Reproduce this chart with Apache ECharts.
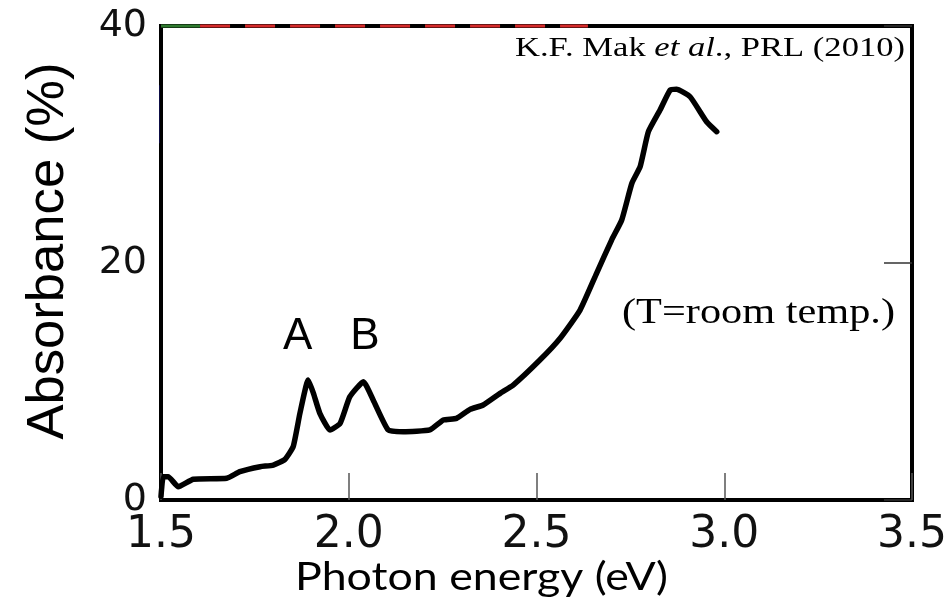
<!DOCTYPE html>
<html><head><meta charset="utf-8">
<script src="https://cdn.jsdelivr.net/npm/echarts@6/dist/echarts.min.js"></script>
<style>html,body{margin:0;padding:0;background:#fff}#c{width:946px;height:603px}</style>
</head><body><div id="c"></div>
<script>
// ---- data ----
const photonEnergy = [1.500,1.506,1.519,1.546,1.586,1.675,1.710,1.764,1.799,1.830,1.852,1.870,1.892,1.906,1.923,1.950,1.977,2.003,2.039,2.065,2.105,2.145,2.216,2.252,2.287,2.323,2.358,2.403,2.438,2.509,2.563,2.616,2.660,2.700,2.727,2.754,2.776,2.798,2.829,2.856,2.873,2.909,2.953,2.980];
const absorbance   = [0.3,1.97,1.97,1.12,1.75,1.83,2.39,2.81,2.95,3.43,4.50,7.32,10.13,9.00,7.32,5.91,6.47,8.72,9.98,8.44,5.91,5.76,5.91,6.75,6.89,7.65,8.02,9.00,9.70,11.81,13.65,16.03,19.13,21.94,23.63,26.73,28.13,31.08,32.91,34.60,34.66,34.03,31.92,31.08];
const xTickLabels = ['1.5','2.0','2.5','3.0','3.5'];
const yTickLabels = ['0','20','40'];
const peakLabels = ['A','B'];
const peakLabelX = [1.864, 2.043];
const peakLabelY = [13.8, 13.8];
const topGreenX = [1.5, 1.604];
const topRedX = [1.604, 2.637];
const topY = [40, 40];
const leftBlueX = [1.492, 1.492];
const leftBlueY = [30.1, 35.0];
const citationParts = ['K.F. Mak ', 'et al', '., PRL (2010)'];
const tempNote = '(T=room temp.)';
const xTitle = 'Photon energy (eV)';
const yTitle = 'Absorbance (%)';

// ---- helpers ----
const cv = document.createElement('canvas').getContext('2d');
function w(text, font){ cv.font = font; return cv.measureText(text).width; }

const citeW = w(citationParts[0], '28px "Liberation Serif"') + w(citationParts[1], 'italic 28px "Liberation Serif"') + w(citationParts[2], '28px "Liberation Serif"');
const citeScale = 390 / citeW;
const tempScale = 273 / w(tempNote, '35px "Liberation Serif"');
const xTitleScale = 373 / w(xTitle, '39px "Lato"');
const yTitleScale = 377 / w(yTitle, '52px "Liberation Sans"');

const chart = echarts.init(document.getElementById('c'), null, {renderer:'canvas'});
const zip = (a,b) => a.map((v,i)=>[v,b[i]]);

function txt(text, family, size, x, y, sx, extra){
  return Object.assign({
    type:'text', x:x, y:y, scaleX:sx, z:10,
    style:{text:text, fontFamily:family, fontSize:size, fill:'#000', align:'center', verticalAlign:'middle', textAlign:'center', textVerticalAlign:'middle'}
  }, extra||{});
}

chart.setOption({
  animation:false,
  backgroundColor:'#fff',
  grid:{left:161, right:34, top:26, bottom:103, show:true, borderColor:'#000', borderWidth:4, backgroundColor:'transparent', outerBoundsMode:'none'},
  xAxis:{type:'value', min:1.5, max:3.5, interval:0.5,
    axisLine:{show:false}, splitLine:{show:false},
    axisTick:{show:true, inside:true, length:27, lineStyle:{color:'#555', width:1.5}},
    axisLabel:{fontFamily:'DejaVu Sans', fontSize:44, color:'#111', margin:14, showMinLabel:true, showMaxLabel:true,
      formatter:(v)=>{ const i = Math.round((v-1.5)/0.5); return xTickLabels[i] !== undefined ? xTickLabels[i] : ''; }}
  },
  yAxis:[
    {type:'value', min:0, max:40, interval:20, position:'left',
      axisLine:{show:false}, axisTick:{show:false}, splitLine:{show:false},
      axisLabel:{fontFamily:'DejaVu Sans', fontSize:38, color:'#111', margin:14, padding:[0,0,8,0],
        showMinLabel:true, showMaxLabel:true,
        formatter:(v)=>{ const i = Math.round(v/20); return yTickLabels[i] !== undefined ? yTickLabels[i] : ''; }}
    },
    {type:'value', min:0, max:40, interval:20, position:'right',
      axisLine:{show:false}, splitLine:{show:false}, axisLabel:{show:false},
      axisTick:{show:true, inside:true, length:28, lineStyle:{color:'#333', width:1.5}}
    }
  ],
  series:[
    {type:'line', data:zip(topGreenX, topY), symbol:'none', clip:false, z:4,
      lineStyle:{color:'#2f7a2f', width:3}},
    {type:'line', data:zip(topRedX, topY), symbol:'none', clip:false, z:4,
      lineStyle:{color:'#d42a2a', width:3, type:[30,15]}},
    {type:'line', data:zip(leftBlueX, leftBlueY), symbol:'none', clip:false, z:4,
      lineStyle:{color:'#1c1c8a', width:3}},
    {type:'line', data:zip(photonEnergy, absorbance), symbol:'none', clip:false, z:5, smooth:0.15,
      lineStyle:{color:'#000', width:5.5, cap:'round', join:'round'}},
    {type:'scatter', data:peakLabelX.map((x,i)=>[x, peakLabelY[i], peakLabels[i]]), symbolSize:0.1,
      itemStyle:{color:'#000'}, silent:true, z:6,
      label:{show:true, position:'inside', formatter:(p)=>p.value[2], fontFamily:'Liberation Sans', fontSize:44,
        color:'#000', opacity:1, textBorderWidth:0}}
  ],
  graphic:[
    {type:'text', x:710, y:49, scaleX:citeScale, z:10,
      style:{text:citationParts[0] + '{i|' + citationParts[1] + '}' + citationParts[2], fontSize:28, fontFamily:'Liberation Serif', fill:'#000',
        align:'center', verticalAlign:'middle', textAlign:'center', textVerticalAlign:'middle',
        rich:{i:{fontStyle:'italic', fontSize:28, fontFamily:'Liberation Serif', fill:'#000'}}}},
    txt(tempNote, 'Liberation Serif', 35, 758.5, 314, tempScale),
    txt(xTitle, 'Lato', 39, 481.5, 577, xTitleScale),
    txt(yTitle, 'Liberation Sans', 52, 49, 251, yTitleScale, {rotation:Math.PI/2})
  ]
});
</script></body></html>
